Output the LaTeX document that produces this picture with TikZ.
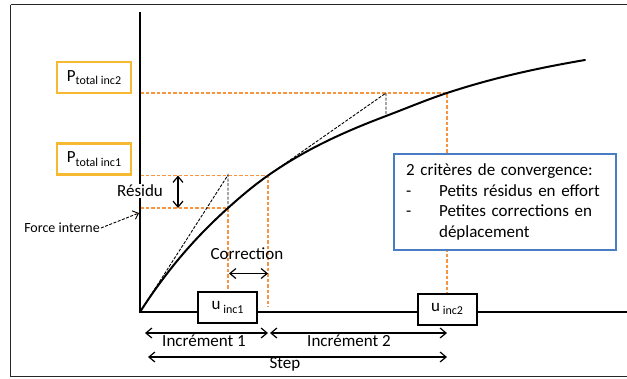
\documentclass[tikz,border=0pt]{standalone}
\usepackage{fontspec}
\setmainfont{Carlito}
\usetikzlibrary{arrows.meta}
\definecolor{orng}{HTML}{F79440}
\definecolor{gold}{HTML}{F7B931}
\definecolor{bluebx}{HTML}{4A7CC4}
\newcommand{\subtxt}[1]{{\fontsize{12}{12}\selectfont\raisebox{-3.5pt}{#1}}}
\tikzset{
  guide/.style={orng, line width=1.2pt, dash pattern=on 3.5pt off 2pt},
  tang/.style={black, line width=0.9pt, dash pattern=on 3pt off 1.5pt},
  pbox/.style={draw=gold, line width=2.4pt, minimum width=74pt, minimum height=31pt, inner sep=0pt, font=\fontsize{17}{17}\selectfont},
  ubox/.style={draw=black, line width=2pt, fill=white, minimum width=59pt, minimum height=31pt, inner sep=0pt, font=\fontsize{17}{17}\selectfont},
  lbl/.style={font=\fontsize{17}{17}\selectfont, inner sep=1pt},
  barb/.style={line width=1.2pt, {Straight Barb[length=6pt,width=10pt]}-{Straight Barb[length=6pt,width=10pt]}},
}
\begin{document}
\begin{tikzpicture}[x=1pt,y=-1pt]
\useasboundingbox (0,0) rectangle (627,378);
\clip (0,0) rectangle (627,378);
% frame
\draw[line width=1.3pt, black!85] (10.5,4.5) -- (10.5,376.5) -- (640,376.5);
\draw[line width=1.3pt, black!85] (10.5,4.5) -- (640,4.5);
% coordinates
\coordinate (O) at (140,312);
\coordinate (Ytop) at (140,12);
\coordinate (Xend) at (640,312);
\coordinate (A1) at (228,208);
\coordinate (T1) at (228,175);
\coordinate (B1) at (268,175.5);
\coordinate (A2) at (386,116);
\coordinate (T2) at (386,93);
\coordinate (B2) at (447,93);
\coordinate (E) at (585,60);
\coordinate (Y2) at (140,93);
\coordinate (Y1) at (140,175.5);
\coordinate (Y0) at (140,208);
% orange guides
\draw[guide] (Y2) -- (B2) -- (447,293);
\draw[guide] (Y1) -- (B1) -- (268,307);
\draw[guide] (Y0) -- (A1) -- (228,291);
% axes
\draw[line width=2pt] (Ytop) -- (O) -- (Xend);
% curve
\draw[line width=2pt, line cap=round]
  (O) .. controls (169.3,266.3) and (198.7,234.4) .. (A1)
      .. controls (241.3,196) and (254.7,184.8) .. (B1)
      .. controls (307.3,148) and (346.7,130.9) .. (A2)
      .. controls (406.3,108.3) and (426.7,99.7) .. (B2)
      .. controls (493,77.8) and (539,67.8) .. (E);
% tangents
\draw[tang] (O) -- (T1) -- (A1);
\draw[tang] (B1) -- (T2) -- (A2);
% boxes
\node[pbox] (P2) at (94,77.5) {P\subtxt{total inc2}};
\node[pbox] (P1) at (94,159) {P\subtxt{total inc1}};
\node[ubox] (U1) at (227.5,307.5) {u\,\subtxt{inc1}};
\node[ubox] (U2) at (447,309) {u\,\subtxt{inc2}};
\node[draw=bluebx, line width=2.2pt, fill=white, anchor=north west, minimum width=222pt, minimum height=96pt, text width=198pt, inner xsep=11pt, inner ysep=0pt, align=left, font=\fontsize{17}{20.5}\selectfont] (crit) at (393,153)
  {2 critères de convergence:\\
   \makebox[33pt][l]{-}Petits résidus en effort\\
   \makebox[33pt][l]{-}Petites corrections en\\
   \hspace*{33pt}déplacement};
% residu
\node[lbl, fill=white] (res) at (140,191) {Résidu};
\coordinate (R1) at (178,175.5);
\coordinate (R2) at (178,208);
\draw[barb] (R1) -- (R2);
% force interne
\node[font=\fontsize{14}{14}\selectfont, inner sep=1pt] (fi) at (62,228) {Force interne};
\coordinate (FIt) at (139,213);
\draw[line width=0.9pt, dash pattern=on 3pt off 1.5pt, -{Straight Barb[length=5pt,width=9pt]}] (fi.east) -- (FIt);
% correction
\node[lbl] (corr) at (247,254) {Correction};
\coordinate (C1) at (229,273.5);
\coordinate (C2) at (268,273.5);
\draw[barb] (C1) -- (C2);
% increments
\coordinate (I1a) at (145,333);
\coordinate (I1b) at (268,333);
\coordinate (I2a) at (270,333);
\coordinate (I2b) at (447,333);
\coordinate (Sa) at (148,357);
\coordinate (Sb) at (447,357);
\draw[barb] (I1a) -- (I1b);
\draw[barb] (I2a) -- (I2b);
\draw[barb] (Sa) -- (Sb);
\node[lbl] (inc1) at (204,341) {Incrément 1};
\node[lbl] (inc2) at (349,341) {Incrément 2};
\node[lbl] (step) at (285,364) {Step};
\end{tikzpicture}
\end{document}
